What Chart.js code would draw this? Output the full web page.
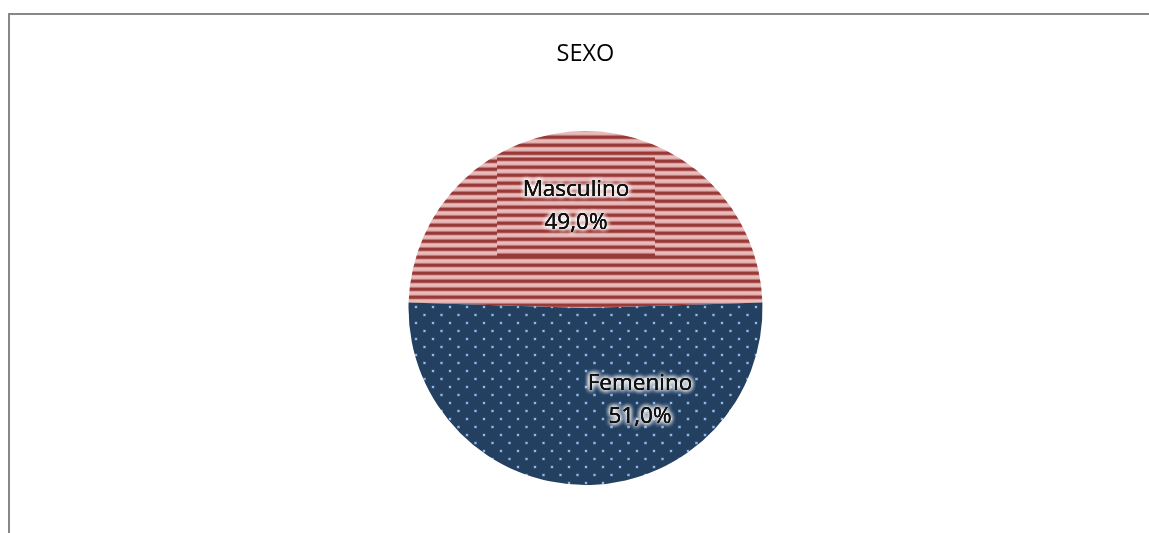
<!DOCTYPE html>
<html>
<head>
<meta charset="utf-8">
<script src="https://cdn.jsdelivr.net/npm/chart.js@4/dist/chart.umd.min.js"></script>
<style>
html,body{margin:0;padding:0;background:#fff;width:1149px;height:533px;overflow:hidden;}
#frame{position:absolute;left:8px;top:13px;width:1170px;height:560px;border:2px solid #878787;box-sizing:border-box;}
#c{position:absolute;left:0;top:0;}
</style>
</head>
<body>
<div id="frame"></div>
<canvas id="c" width="1149" height="533"></canvas>
<script>
// ---- data ----
const chartTitle = 'SEXO';
const categories = ['Masculino', 'Femenino'];
const percentages = [49.0, 51.0];

// ---- patterns ----
function stripePattern(shift) {
  const c = document.createElement('canvas');
  c.width = 8; c.height = 8;
  const x = c.getContext('2d');
  const rows = ['#983a38', '#983a38', '#a9504e', '#d8a09f', '#e8bcbb', '#e8bcbb', '#e3afae', '#c47472'];
  for (let r = 0; r < 8; r++) {
    x.fillStyle = rows[(r + shift + 8) % 8];
    x.fillRect(0, r, 8, 1);
  }
  return x.createPattern(c, 'repeat');
}
function dotPattern(withBg, alpha) {
  const c = document.createElement('canvas');
  c.width = 17; c.height = 16;
  const x = c.getContext('2d');
  if (withBg) { x.fillStyle = '#244061'; x.fillRect(0, 0, 17, 16); }
  x.fillStyle = 'rgba(100,140,195,' + (alpha * 0.6) + ')';
  x.fillRect(6.5, 1.5, 3, 3);
  x.fillRect(15, 9.5, 3, 3);
  x.fillRect(-2, 9.5, 3, 3);
  x.fillStyle = 'rgba(165,198,240,' + alpha + ')';
  x.fillRect(7, 2, 2, 2);
  x.fillRect(15.5, 10, 2, 2);
  x.fillRect(-1.5, 10, 2, 2);
  return x.createPattern(c, 'repeat');
}
const fills = [stripePattern(0), dotPattern(true, 0.85)];
const boxFills = [stripePattern(2), dotPattern(false, 0.35)];

const labelPlugin = {
  id: 'sliceLabels',
  afterDatasetsDraw(chart, args, opts) {
    const ctx = chart.ctx;
    const meta = chart.getDatasetMeta(0);
    const ds = chart.data.datasets[0];
    meta.data.forEach((arc, i) => {
      const pos = arc.tooltipPosition();
      const cx = pos.x + opts.offsets[i][0];
      const cy = pos.y + opts.offsets[i][1];
      const bw = opts.boxes[i][0], bh = opts.boxes[i][1];
      const bx = cx + opts.boxes[i][2], by = cy + opts.boxes[i][3];
      ctx.save();
      ctx.beginPath();
      ctx.arc(arc.x, arc.y, arc.outerRadius, arc.startAngle, arc.endAngle);
      ctx.lineTo(arc.x, arc.y);
      ctx.closePath();
      ctx.clip();
      ctx.fillStyle = boxFills[i];
      ctx.fillRect(bx - bw / 2, by - bh / 2, bw, bh);
      ctx.restore();

      const lines = [chart.data.labels[i], ds.data[i].toFixed(1).replace('.', ',') + '%'];
      ctx.save();
      ctx.font = opts.font;
      ctx.textAlign = 'center';
      ctx.textBaseline = 'middle';
      lines.forEach((t, j) => {
        const ty = cy + (j - 0.5) * opts.lineGap;
        ctx.shadowColor = 'rgba(255,255,255,1)';
        ctx.shadowBlur = 5;
        ctx.fillStyle = '#000';
        for (let r = 0; r < 5; r++) ctx.fillText(t, cx, ty);
        ctx.shadowBlur = 0;
        ctx.fillStyle = '#111';
        ctx.fillText(t, cx, ty);
      });
      ctx.restore();
    });
  }
};

new Chart(document.getElementById('c'), {
  type: 'pie',
  data: {
    labels: categories,
    datasets: [{
      data: percentages,
      backgroundColor: fills,
      borderWidth: 0,
      hoverOffset: 0
    }]
  },
  options: {
    responsive: false,
    animation: false,
    rotation: 271.8,
    layout: { padding: { left: 408.5, right: 386.5, top: 30, bottom: 48 } },
    plugins: {
      legend: { display: false },
      tooltip: { enabled: false },
      title: {
        display: true,
        text: chartTitle,
        color: '#000',
        font: { family: 'Open Sans', size: 23.5, weight: 'normal', lineHeight: 1.2 },
        padding: { top: 10, bottom: 62.8 }
      },
      sliceLabels: {
        font: '22.5px "Open Sans"',
        lineGap: 33,
        offsets: [[-9.5, -13.5], [54.5, 4]],
        boxes: [[158, 99, 0, 0.5], [155, 97, -0.5, -2]]
      }
    }
  },
  plugins: [labelPlugin]
});
</script>
</body>
</html>
